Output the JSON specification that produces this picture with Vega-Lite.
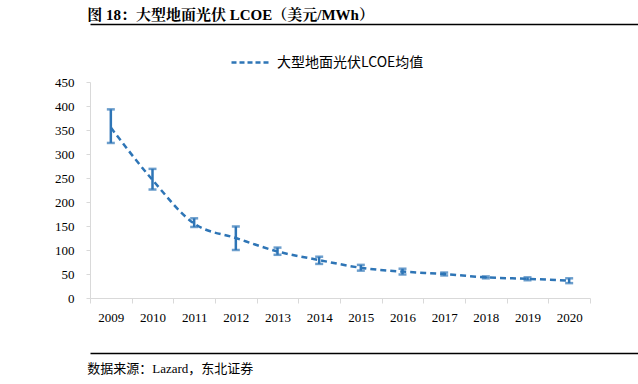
{
  "$schema": "https://vega.github.io/schema/vega-lite/v6.json",
  "padding": {"left": 20, "top": 8, "right": 18, "bottom": 0},
  "spacing": 26,
  "config": {
    "view": {"stroke": null},
    "font": "Liberation Serif, Noto Sans CJK SC",
    "axis": {"labelFont": "Liberation Serif"},
    "axisY": {"grid": false, "labelFontSize": 13, "labelColor": "#000000", "labelFont": "Liberation Serif", "domainColor": "#d9d9d9", "tickColor": "#d9d9d9", "tickSize": 4, "labelPadding": 12, "minExtent": 70, "maxExtent": 70, "labelOverlap": false, "title": null}
  },
  "datasets": {
    "lcoe": [
      {"year": "2009", "mean": 355, "lo": 323, "hi": 393},
      {"year": "2010", "mean": 246, "lo": 226, "hi": 269},
      {"year": "2011", "mean": 155, "lo": 148, "hi": 166},
      {"year": "2012", "mean": 125, "lo": 100, "hi": 149},
      {"year": "2013", "mean": 97, "lo": 90, "hi": 105},
      {"year": "2014", "mean": 79, "lo": 71, "hi": 86},
      {"year": "2015", "mean": 63, "lo": 57, "hi": 69},
      {"year": "2016", "mean": 55, "lo": 49, "hi": 61},
      {"year": "2017", "mean": 50, "lo": 47, "hi": 53},
      {"year": "2018", "mean": 43, "lo": 41, "hi": 45},
      {"year": "2019", "mean": 40, "lo": 37, "hi": 43},
      {"year": "2020", "mean": 36, "lo": 31, "hi": 41}
    ]
  },
  "vconcat": [
    {
      "width": 600,
      "height": 26,
      "title": {"text": "图 18：大型地面光伏 LCOE（美元/MWh）", "anchor": "start", "fontSize": 15, "fontWeight": "bold", "color": "#000000", "offset": 1, "font": "Liberation Serif, Noto Serif CJK SC, Noto Sans CJK SC"},
      "data": {"values": [{"v": 0}]},
      "mark": {"type": "point", "opacity": 0},
      "encoding": {
        "x": {"field": "v", "type": "quantitative", "scale": {"domain": [0, 1]}, "axis": {"orient": "top", "domain": true, "domainColor": "#000000", "domainWidth": 1.5, "ticks": false, "labels": false, "grid": false, "title": null}}
      }
    },
    {
      "width": 500,
      "height": 216,
      "data": {"name": "lcoe"},
      "encoding": {
        "x": {"field": "year", "type": "ordinal", "scale": {"paddingInner": 0, "paddingOuter": 0}, "axis": {"title": null, "labelAngle": 0, "labelFontSize": 13, "labelColor": "#000000", "labelPadding": 8, "domainColor": "#d9d9d9", "tickColor": "#d9d9d9", "tickBand": "extent", "tickSize": 5, "labelFont": "Liberation Serif"}}
      },
      "layer": [
        {
          "mark": {"type": "line", "interpolate": "monotone", "strokeDash": [6, 4], "strokeWidth": 2.5},
          "encoding": {
            "y": {"field": "mean", "type": "quantitative", "scale": {"domain": [0, 450]}, "axis": {"title": null, "values": [0, 50, 100, 150, 200, 250, 300, 350, 400, 450]}},
            "color": {"datum": "大型地面光伏LCOE均值", "type": "nominal", "scale": {"range": ["#2e75b6"]}, "legend": {"title": null, "orient": "none", "legendX": 140, "legendY": 17, "symbolType": "stroke", "symbolDash": [5, 3], "symbolStrokeWidth": 2.5, "symbolSize": 1600, "labelFontSize": 14, "labelFont": "Noto Sans CJK SC", "labelColor": "#000000"}}
          }
        },
        {
          "mark": {"type": "rule", "color": "#2e75b6", "strokeWidth": 2.5},
          "encoding": {
            "y": {"field": "lo", "type": "quantitative", "axis": {"title": null, "values": [0, 50, 100, 150, 200, 250, 300, 350, 400, 450]}},
            "y2": {"field": "hi"}
          }
        },
        {
          "mark": {"type": "tick", "color": "#2e75b6", "thickness": 2.5, "size": 8, "orient": "horizontal"},
          "encoding": {"y": {"field": "lo", "type": "quantitative", "axis": {"title": null, "values": [0, 50, 100, 150, 200, 250, 300, 350, 400, 450]}}}
        },
        {
          "mark": {"type": "tick", "color": "#2e75b6", "thickness": 2.5, "size": 8, "orient": "horizontal"},
          "encoding": {"y": {"field": "hi", "type": "quantitative", "axis": {"title": null, "values": [0, 50, 100, 150, 200, 250, 300, 350, 400, 450]}}}
        }
      ]
    },
    {
      "width": 600,
      "height": 1,
      "title": {"text": "数据来源：Lazard，东北证券", "orient": "bottom", "anchor": "start", "fontSize": 13, "fontWeight": "normal", "color": "#000000", "offset": 7, "font": "Liberation Serif, Noto Sans CJK SC"},
      "data": {"values": [{"v": 0}]},
      "mark": {"type": "point", "opacity": 0},
      "encoding": {
        "x": {"field": "v", "type": "quantitative", "scale": {"domain": [0, 1]}, "axis": {"orient": "top", "domain": true, "domainColor": "#000000", "domainWidth": 1.5, "ticks": false, "labels": false, "grid": false, "title": null}}
      }
    }
  ]
}
